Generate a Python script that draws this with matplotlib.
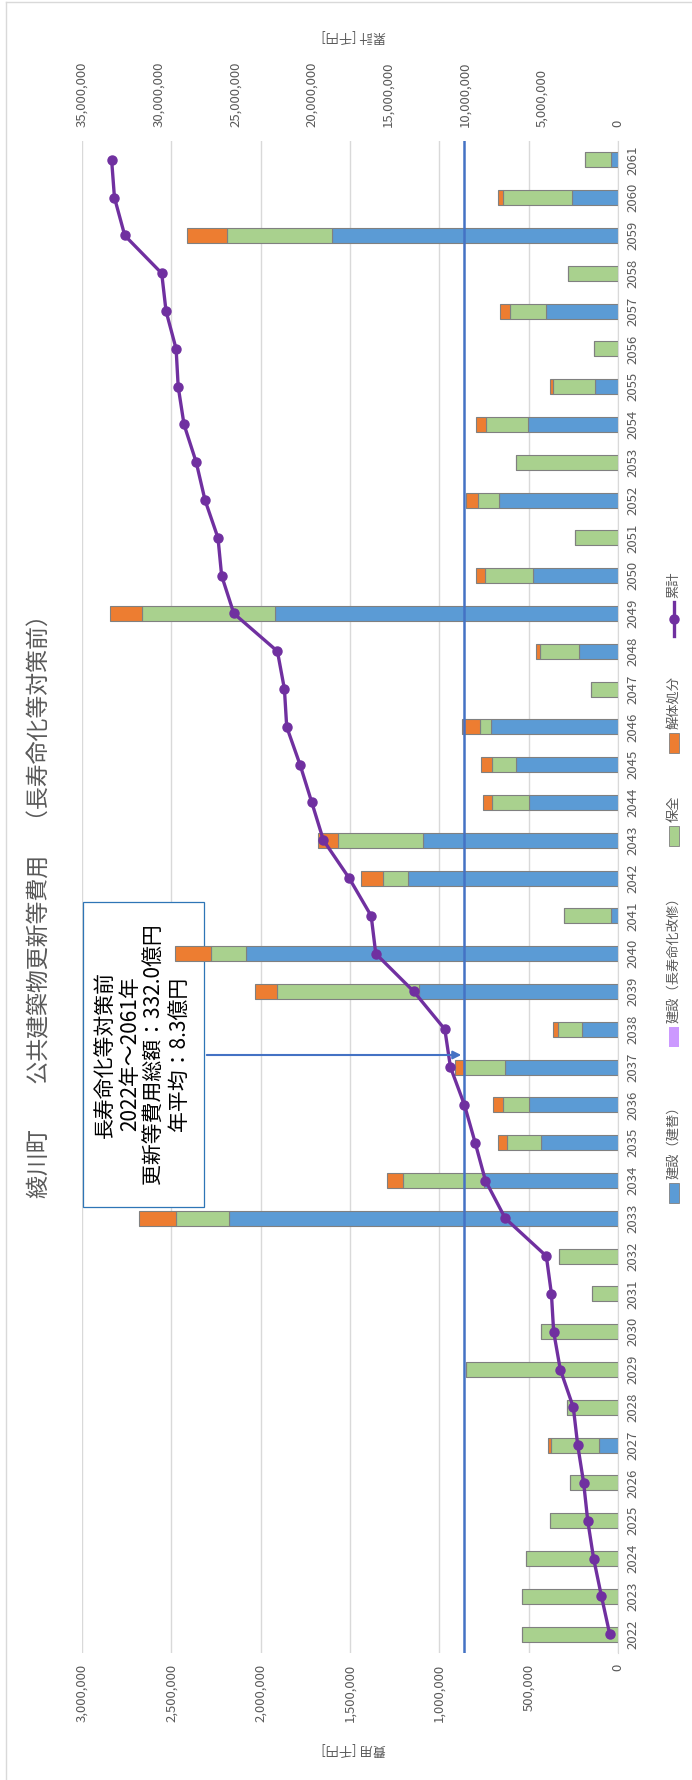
import numpy as np
import matplotlib.pyplot as plt
from matplotlib.patches import Rectangle, FancyArrowPatch
from matplotlib.lines import Line2D

plt.rcParams['font.family'] = ['Noto Sans CJK JP', 'DejaVu Sans']

# data (千円)
years = list(range(2022, 2062))
rebuild = [0, 0, 0, 0, 0, 106000, 0, 0, 0, 0,
           0, 2180000, 751000, 433000, 499000, 631000, 203000, 1114000, 2080000, 41000,
           1176000, 1093000, 497000, 573000, 712000, 0, 217000, 1919000, 478000, 0,
           664000, 0, 505000, 130000, 0, 402000, 0, 1598000, 259000, 41000]
longlife = [0, 0, 0, 0, 0, 0, 0, 0, 0, 0,
            0, 0, 0, 0, 0, 0, 0, 0, 0, 0,
            0, 0, 0, 0, 0, 0, 0, 0, 0, 0,
            0, 0, 0, 0, 0, 0, 0, 0, 0, 0]
maintain = [540000, 540000, 513000, 383000, 267000, 271000, 286000, 851000, 433000, 145000,
            333000, 294000, 455000, 190000, 147000, 230000, 132000, 793000, 199000, 259000,
            139000, 474000, 207000, 130000, 62000, 149000, 217000, 745000, 269000, 238000,
            118000, 573000, 236000, 234000, 135000, 205000, 282000, 588000, 385000, 141000]
demolish = [0, 0, 0, 0, 0, 12000, 0, 0, 0, 0,
            0, 209000, 89000, 46000, 54000, 54000, 31000, 122000, 201000, 0,
            124000, 112000, 54000, 66000, 97000, 0, 23000, 182000, 50000, 0,
            66000, 0, 56000, 17000, 0, 52000, 0, 226000, 29000, 4000]
average = 860000

labels = ['建設（建替）', '建設（長寿命化改修）', '保全', '解体処分', '累計']
colors = ['#5B9BD5', '#CC99FF', '#A9D18E', '#ED7D31', '#7030A0']

rebuild = np.array(rebuild)
longlife = np.array(longlife)
maintain = np.array(maintain)
demolish = np.array(demolish)
total = rebuild + longlife + maintain + demolish
cumulative = np.cumsum(total)

W, H = 692, 1780
gray = '#595959'
fig = plt.figure(figsize=(W / 100, H / 100), dpi=100)

# plot area (chart is laid out turned on its side)
ax = fig.add_axes([82 / W, 1 - 1653 / H, (618 - 82) / W, (1653 - 141) / H])
y = np.arange(len(years))
bh = 0.4
edge = '#808080'
ax.barh(y, rebuild, height=bh, color=colors[0], edgecolor=edge, linewidth=0.8, zorder=2)
ax.barh(y, longlife, left=rebuild, height=bh, color=colors[1], edgecolor='none', zorder=2)
ax.barh(y, maintain, left=rebuild + longlife, height=bh, color=colors[2], edgecolor=edge,
        linewidth=0.8, zorder=2)
ax.barh(y, demolish, left=rebuild + longlife + maintain, height=bh, color=colors[3],
        edgecolor=edge, linewidth=0.8, zorder=2)
ax.axvline(average, color='#4472C4', lw=1.8, zorder=4)

ax.set_xlim(3000000, 0)
ax.set_ylim(-0.5, len(years) - 0.5)
xt = np.arange(0, 3000001, 500000)
ax.set_xticks(xt)
ax.set_xticklabels([f'{v:,}' for v in xt], rotation=90)
ax.set_yticks(y)
ax.set_yticklabels([str(v) for v in years], rotation=90, va='center')
ax.yaxis.tick_right()
ax.tick_params(axis='both', length=0, colors=gray, labelsize=9.5)
ax.tick_params(axis='x', pad=8)
ax.tick_params(axis='y', pad=6)
ax.xaxis.grid(True, color='#D9D9D9', linewidth=1)
ax.set_axisbelow(True)
for s in ['left', 'top', 'bottom']:
    ax.spines[s].set_visible(False)
ax.spines['right'].set_color('#D9D9D9')

# secondary axis for 累計
ax2 = ax.twiny()
ax2.plot(cumulative, y, color=colors[4], lw=2.4, marker='o', ms=6.5, zorder=5)
ax2.set_xlim(35000000, 0)
xt2 = np.arange(0, 35000001, 5000000)
ax2.set_xticks(xt2)
ax2.set_xticklabels([f'{v:,}' for v in xt2], rotation=90)
ax2.tick_params(axis='x', length=0, colors=gray, labelsize=9.5, pad=10)
for s in ax2.spines.values():
    s.set_visible(False)

# annotation box
ax.add_patch(Rectangle((83 / W, 1 - 1207 / H), 121 / W, 305 / H, transform=fig.transFigure,
                       facecolor='white', edgecolor='#2E75B6', lw=0.9, zorder=1))
fig.text(142 / W, 1 - 1054 / H,
         '長寿命化等対策前\n2022年～2061年\n更新等費用総額：332.0億円\n年平均：8.3億円',
         rotation=90, ha='center', va='center', multialignment='center',
         fontsize=15, color='black', linespacing=1.15, zorder=6)
fig.patches.append(FancyArrowPatch((204 / W, 1 - 1055 / H), (464 / W, 1 - 1055 / H),
                                   transform=fig.transFigure, arrowstyle='-|>',
                                   mutation_scale=12, color='#4472C4', lw=1.5, zorder=5))

# titles
fig.text(40 / W, 1 - 901 / H, '綾川町　　公共建築物更新等費用　（長寿命化等対策前）',
         rotation=90, ha='center', va='center', fontsize=16.5, color=gray)
fig.text(354 / W, 1 - 1750 / H, '費用 [千円]', rotation=180, ha='center', va='center',
         fontsize=9.5, color=gray)
fig.text(354 / W, 1 - 37 / H, '累計 [千円]', rotation=180, ha='center', va='center',
         fontsize=9.5, color=gray)

# legend (drawn sideways)
lx = 674
swatch_y = [1193, 1037, 836, 743]
for lab, col, yc in zip(labels[:4], colors[:4], swatch_y):
    fig.patches.append(Rectangle(((lx - 5) / W, 1 - (yc + 10) / H), 10 / W, 20 / H,
                                 transform=fig.transFigure, facecolor=col,
                                 edgecolor=edge if lab != labels[1] else 'none', lw=0.6))
    fig.text(lx / W, 1 - (yc - 14) / H, lab, rotation=90, ha='center', va='bottom',
             fontsize=9.5, color=gray)
fig.add_artist(Line2D([lx / W, lx / W], [1 - 636 / H, 1 - 602 / H], transform=fig.transFigure,
                      color=colors[4], lw=2.4))
fig.add_artist(Line2D([lx / W], [1 - 619 / H], transform=fig.transFigure,
                      color=colors[4], marker='o', ms=6.5))
fig.text(lx / W, 1 - 598 / H, labels[4], rotation=90, ha='center', va='bottom',
         fontsize=9.5, color=gray)

# chart border
fig.add_artist(Line2D([6 / W, 6 / W], [0, 1 - 2 / H], transform=fig.transFigure,
                      color='#D9D9D9', lw=1))
fig.add_artist(Line2D([6 / W, 1], [1 - 2 / H, 1 - 2 / H], transform=fig.transFigure,
                      color='#D9D9D9', lw=1))

fig.savefig('out.png', dpi=100)
